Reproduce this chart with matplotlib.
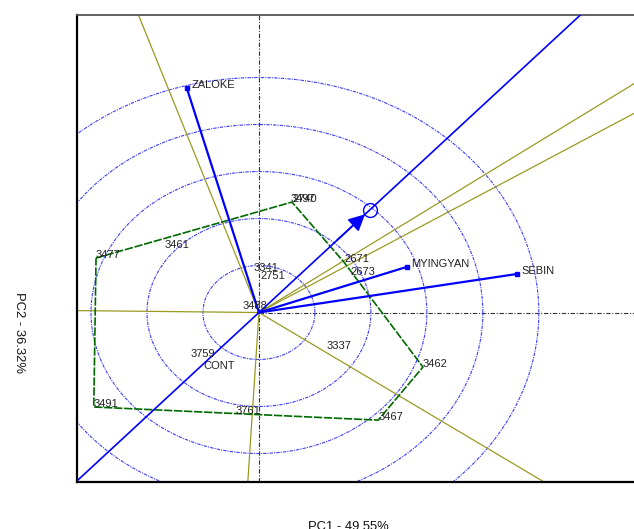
import numpy as np
import matplotlib
matplotlib.use("Agg")
import matplotlib.pyplot as plt

# Genotype scores on the first two principal components
genotypes = ["3497", "2740", "3461", "3477", "3341", "2751", "3488", "2671",
             "2673", "3337", "3462", "3467", "3761", "3491", "3759", "CONT"]
g_pc1 = [0.57, 0.59, -1.68, -2.91, -0.09, 0.02, -0.30, 1.52,
         1.64, 1.21, 2.93, 2.13, -0.41, -2.95, -1.23, -1.00]
g_pc2 = [2.35, 2.35, 1.37, 1.16, 0.88, 0.71, 0.07, 1.07,
         0.80, -0.78, -1.16, -2.29, -2.16, -2.01, -0.95, -1.20]

# Environment scores
environments = ["ZALOKE", "MYINGYAN", "SEBIN"]
e_pc1 = [-1.29, 2.64, 4.61]
e_pc2 = [4.78, 0.97, 0.82]

# Vertex genotypes of the polygon (in drawing order)
hull = ["3477", "2740", "2671", "3462", "3467", "3491"]

# Concentric rings around the origin
ring_radii = [1, 2, 3, 4, 5]

axis_x_label = "PC1 - 49.55%"
axis_y_label = "PC2 - 36.32%"

BLUE = "#0000ff"
RING = "#3b3bff"
OLIVE = "#9a9a22"
GREEN = "#006a00"

plt.rcParams["font.family"] = ["Liberation Sans", "DejaVu Sans"]

W, H = 634, 529
fig = plt.figure(figsize=(W / 100, H / 100), dpi=100)
ax = fig.add_axes([77 / W, 1 - 482 / H, (W - 77) / W, (482 - 15) / H])
ax.set_xlim(-3.25, 6.70)
ax.set_ylim(-3.606, 6.33)
ax.set_xticks([])
ax.set_yticks([])
ax.spines["right"].set_visible(False)
ax.spines["left"].set_linewidth(1.6)
ax.spines["bottom"].set_linewidth(1.6)
ax.spines["top"].set_linewidth(1.3)
ax.spines["top"].set_color("#555555")

gx = dict(zip(genotypes, g_pc1))
gy = dict(zip(genotypes, g_pc2))

# Reference axes through the origin
dashdot = (0, (4, 1.5, 1, 1.5))
ax.axvline(0, color="#333333", lw=0.8, ls=dashdot, zorder=1)
ax.plot([0, 20], [0, 0], color="#333333", lw=0.8, ls=dashdot, zorder=1)

# Concentric rings
t = np.linspace(0, 2 * np.pi, 400)
for r in ring_radii:
    ax.plot(r * np.cos(t), r * np.sin(t), color=RING, lw=0.8,
            ls=(0, (3, 1, 1, 1)), zorder=1)

# Polygon joining the vertex genotypes
hx = [gx[g] for g in hull] + [gx[hull[0]]]
hy = [gy[g] for g in hull] + [gy[hull[0]]]
ax.plot(hx, hy, color=GREEN, lw=1.2, ls=(0, (5, 1)), zorder=3)

# Rays from the origin perpendicular to each polygon side
for i in range(len(hull)):
    x1, y1 = gx[hull[i]], gy[hull[i]]
    x2, y2 = gx[hull[(i + 1) % len(hull)]], gy[hull[(i + 1) % len(hull)]]
    nx, ny = (y2 - y1), -(x2 - x1)
    if nx * (x1 + x2) + ny * (y1 + y2) < 0:
        nx, ny = -nx, -ny
    n = np.hypot(nx, ny)
    ax.plot([0, 30 * nx / n], [0, 30 * ny / n], color=OLIVE, lw=0.9, zorder=2)

# Average-environment axis
mx, my = np.mean(e_pc1), np.mean(e_pc2)
m = np.hypot(mx, my)
ax.plot([-30 * mx / m, 30 * mx / m], [-30 * my / m, 30 * my / m],
        color=BLUE, lw=1.2, zorder=4)
ax.annotate("", xy=(mx, my), xytext=(mx * 0.7, my * 0.7),
            arrowprops=dict(arrowstyle="-|>,head_length=0.5,head_width=0.25",
                            mutation_scale=20, color=BLUE, lw=1.2,
                            shrinkA=0, shrinkB=5), zorder=5)
ax.plot([mx], [my], marker="o", ms=10, mfc="none", mec=BLUE, mew=1.0, zorder=5)

# Environment vectors
for name, x, y in zip(environments, e_pc1, e_pc2):
    ax.plot([0, x], [0, y], color=BLUE, lw=1.6, zorder=5)
    ax.plot([x], [y], marker="s", ms=3, color=BLUE, zorder=6)
    ax.annotate(name, (x, y), xytext=(3.5, 0), textcoords="offset points",
                ha="left", va="baseline", fontsize=8, color="#222222", zorder=7)

# Genotype labels
for name, x, y in zip(genotypes, g_pc1, g_pc2):
    ax.text(x, y, name, ha="left", va="baseline", fontsize=8,
            color="#222222", zorder=7)

fig.text(348 / W, 1 - 530 / H, axis_x_label, ha="center", va="baseline",
         fontsize=9.4, color="#111111")
fig.text(19 / W, 1 - 333 / H, axis_y_label, ha="center", va="center",
         rotation=270, fontsize=9.4, color="#111111")

fig.savefig("out.png", dpi=100)
